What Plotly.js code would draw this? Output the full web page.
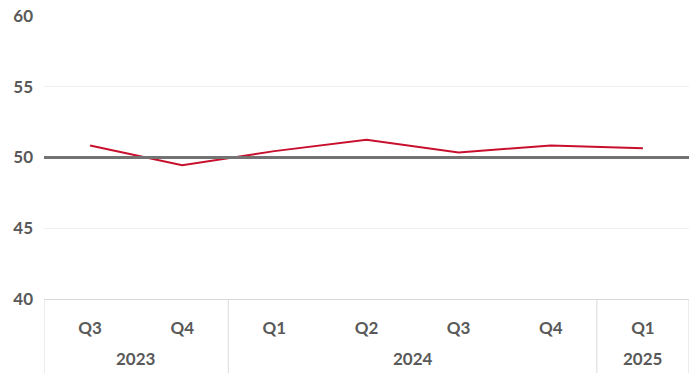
<!DOCTYPE html>
<html>
<head>
<meta charset="utf-8">
<script src="https://cdn.plot.ly/plotly-3.0.1.min.js"></script>
<style>html,body{margin:0;padding:0;background:#fff;}#chart{width:700px;height:377px;}</style>
</head>
<body>
<div id="chart"></div>
<script>
const years = ["2023", "2023", "2024", "2024", "2024", "2024", "2025"];
const quarters = ["Q3", "Q4", "Q1", "Q2", "Q3", "Q4", "Q1"];
const values = [50.85, 49.45, 50.45, 51.25, 50.35, 50.85, 50.65];
const threshold = 50;
const yTicks = [40, 45, 50, 55, 60];

const font = {family: "Lato, 'Open Sans', sans-serif", size: 17, color: "#595959", weight: "bold"};
const dividerColor = "#d9d9d9";

// unique category keys, labelled by quarter
const cats = years.map((y, i) => y + " " + quarters[i]);

// year groups: start/end index
const groups = [];
years.forEach((y, i) => {
  const g = groups[groups.length - 1];
  if (g && g.year === y) g.end = i; else groups.push({year: y, start: i, end: i});
});

const plotH = 377 - 16 - 78;
const yearLabelY = -(358 - 299) / plotH;
const dividerBottom = -(373 - 299) / plotH;

const shapes = [{
  type: "line", xref: "paper", x0: 0, x1: 1, yref: "y", y0: threshold, y1: threshold,
  line: {color: "#737373", width: 3}, layer: "above"
}];
const bounds = [groups[0].start - 0.5].concat(groups.map(g => g.end + 0.5));
bounds.forEach(b => shapes.push({
  type: "line", xref: "x", x0: b, x1: b, yref: "paper", y0: 0, y1: dividerBottom,
  line: {color: dividerColor, width: 1}
}));

const annotations = groups.map(g => ({
  xref: "x", x: (g.start + g.end) / 2, yref: "paper", y: yearLabelY,
  text: g.year, showarrow: false, font: font, xanchor: "center", yanchor: "middle"
}));

const trace = {
  type: "scatter",
  mode: "lines",
  x: cats,
  y: values,
  line: {color: "#C8102E", width: 2},
  hoverinfo: "skip"
};

const layout = {
  width: 700, height: 377,
  margin: {l: 44, r: 11, t: 16, b: 78},
  paper_bgcolor: "#ffffff",
  plot_bgcolor: "#ffffff",
  showlegend: false,
  font: font,
  xaxis: {
    type: "category",
    categoryorder: "array",
    categoryarray: cats,
    tickvals: cats,
    ticktext: quarters,
    range: [-0.5, cats.length - 0.5],
    showgrid: false,
    zeroline: false,
    showline: true,
    linecolor: dividerColor,
    linewidth: 1,
    tickfont: font,
    ticks: "",
    ticklabelstandoff: 14
  },
  yaxis: {
    range: [40, 60],
    tickvals: yTicks,
    ticktext: yTicks.map(String),
    showgrid: true,
    gridcolor: "#f0f0f0",
    gridwidth: 1,
    zeroline: false,
    showline: false,
    tickfont: font,
    ticks: "",
    ticklabelstandoff: 10
  },
  shapes: shapes,
  annotations: annotations
};

Plotly.newPlot("chart", [trace], layout, {staticPlot: true, displayModeBar: false});
</script>
</body>
</html>
